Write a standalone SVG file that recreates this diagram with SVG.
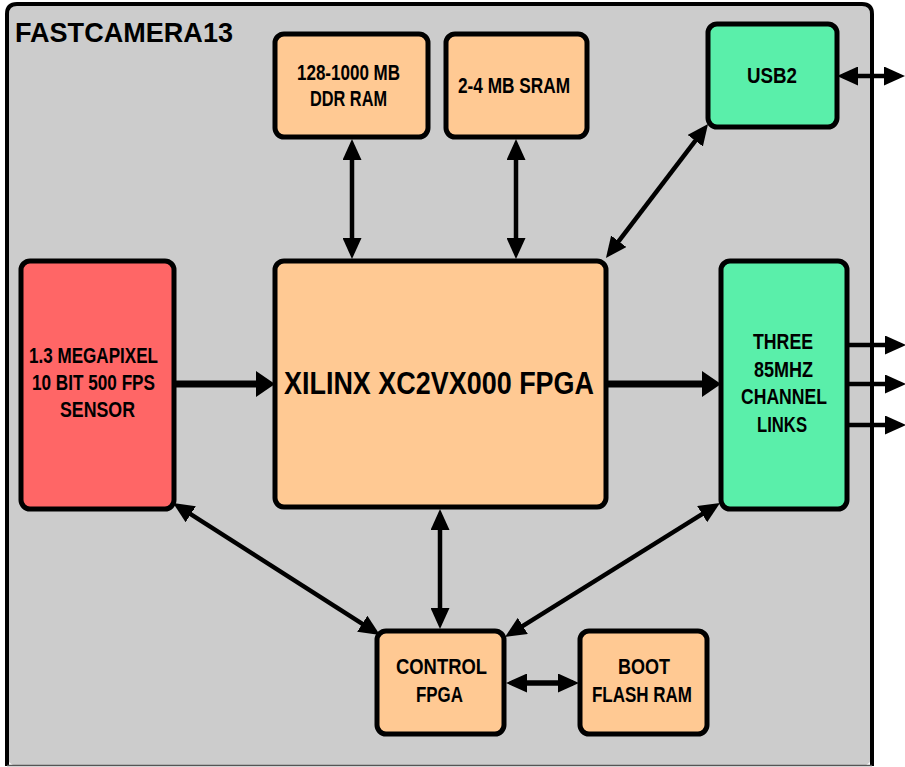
<svg xmlns="http://www.w3.org/2000/svg" width="905" height="767" viewBox="0 0 905 767">
<style>
.box{stroke:#000;stroke-width:5}
.or{fill:#ffc993}
.rd{fill:#ff6666}
.gr{fill:#5aefaa}
text{font-family:"Liberation Sans",Arial,sans-serif;font-weight:bold;fill:#000;text-anchor:middle}
.t{font-size:21.5px}
.big{font-size:32px}
.title{font-size:28.5px;text-anchor:start}
.ln{stroke:#000;stroke-width:4.5;fill:none}
.lnb{stroke:#000;stroke-width:7;fill:none}
</style>
<defs>
<marker id="ah" markerUnits="userSpaceOnUse" markerWidth="21" markerHeight="19" refX="15" refY="9.5" orient="auto-start-reverse" viewBox="0 0 21 19">
<path d="M0,0 L21,9.5 L0,19 z" fill="#000"/>
</marker>
<marker id="ahb" markerUnits="userSpaceOnUse" markerWidth="19" markerHeight="26" refX="13" refY="13" orient="auto-start-reverse" viewBox="0 0 19 26">
<path d="M0,0 L19,13 L0,26 z" fill="#000"/>
</marker>
</defs>

<g id="frame">
<rect x="7" y="4" width="865" height="762" rx="10" fill="#cccccc"/>
<path d="M7,766 V14 Q7,4 17,4 H862 Q872,4 872,14 V766" fill="none" stroke="#000" stroke-width="4"/>
<line x1="7" y1="765.5" x2="872" y2="765.5" stroke="#555" stroke-width="1.5"/>
<text class="title" x="15" y="42" textLength="218" lengthAdjust="spacingAndGlyphs">FASTCAMERA13</text>
</g>

<g id="connectors">
<line class="ln" x1="352" y1="145" x2="352" y2="253" marker-start="url(#ah)" marker-end="url(#ah)"/>
<line class="ln" x1="516" y1="145" x2="516" y2="253" marker-start="url(#ah)" marker-end="url(#ah)"/>
<line class="ln" x1="704.4" y1="128.8" x2="609.6" y2="253.2" marker-start="url(#ah)" marker-end="url(#ah)"/>
<line class="ln" x1="843" y1="76" x2="899" y2="76" marker-start="url(#ah)" marker-end="url(#ah)"/>
<line class="lnb" x1="176" y1="384" x2="269" y2="384" marker-end="url(#ahb)"/>
<line class="lnb" x1="607" y1="384" x2="715" y2="384" marker-end="url(#ahb)"/>
<line class="ln" x1="849" y1="345" x2="900" y2="345" marker-end="url(#ah)"/>
<line class="ln" x1="849" y1="384" x2="900" y2="384" marker-end="url(#ah)"/>
<line class="ln" x1="849" y1="425" x2="900" y2="425" marker-end="url(#ah)"/>
<line class="ln" x1="178.1" y1="506.2" x2="374.9" y2="631.8" marker-start="url(#ah)" marker-end="url(#ah)"/>
<line class="ln" x1="440" y1="515" x2="440" y2="623" marker-start="url(#ah)" marker-end="url(#ah)"/>
<line class="ln" x1="714.9" y1="506.2" x2="510.1" y2="633.8" marker-start="url(#ah)" marker-end="url(#ah)"/>
<line class="ln" x1="512" y1="683" x2="573" y2="683" marker-start="url(#ah)" marker-end="url(#ah)" style="stroke-width:5.5"/>
</g>

<g id="ddr">
<rect class="box or" x="275" y="34" width="153" height="103" rx="9"/>
<text class="t" x="348.5" y="80" textLength="103" lengthAdjust="spacingAndGlyphs">128-1000 MB</text>
<text class="t" x="348.5" y="106" textLength="77" lengthAdjust="spacingAndGlyphs">DDR RAM</text>
</g>

<g id="sram">
<rect class="box or" x="446" y="34" width="141" height="103" rx="9"/>
<text class="t" x="514" y="93" textLength="112" lengthAdjust="spacingAndGlyphs">2-4 MB SRAM</text>
</g>

<g id="usb2">
<rect class="box gr" x="708" y="24" width="129" height="103" rx="9"/>
<text class="t" x="772" y="83" textLength="50" lengthAdjust="spacingAndGlyphs">USB2</text>
</g>

<g id="sensor">
<rect class="box rd" x="21" y="261" width="153" height="248" rx="9"/>
<text class="t" x="93.5" y="363" textLength="129" lengthAdjust="spacingAndGlyphs">1.3 MEGAPIXEL</text>
<text class="t" x="93.5" y="390" textLength="123" lengthAdjust="spacingAndGlyphs">10 BIT 500 FPS</text>
<text class="t" x="97.5" y="417" textLength="75" lengthAdjust="spacingAndGlyphs">SENSOR</text>
</g>

<g id="fpga">
<rect class="box or" x="275" y="261" width="331" height="246" rx="9"/>
<text class="big" x="439" y="394" textLength="310" lengthAdjust="spacingAndGlyphs">XILINX XC2VX000 FPGA</text>
</g>

<g id="channel">
<rect class="box gr" x="721" y="261" width="126" height="248" rx="9"/>
<text class="t" x="783" y="349" textLength="60" lengthAdjust="spacingAndGlyphs">THREE</text>
<text class="t" x="783.5" y="377" textLength="59" lengthAdjust="spacingAndGlyphs">85MHZ</text>
<text class="t" x="784" y="404" textLength="86" lengthAdjust="spacingAndGlyphs">CHANNEL</text>
<text class="t" x="782" y="432" textLength="50" lengthAdjust="spacingAndGlyphs">LINKS</text>
</g>

<g id="control">
<rect class="box or" x="377" y="631" width="127" height="103" rx="9"/>
<text class="t" x="441.5" y="674" textLength="91" lengthAdjust="spacingAndGlyphs">CONTROL</text>
<text class="t" x="439.5" y="702" textLength="47" lengthAdjust="spacingAndGlyphs">FPGA</text>
</g>

<g id="boot">
<rect class="box or" x="580" y="631" width="127" height="103" rx="9"/>
<text class="t" x="644" y="674" textLength="52" lengthAdjust="spacingAndGlyphs">BOOT</text>
<text class="t" x="642" y="702" textLength="100" lengthAdjust="spacingAndGlyphs">FLASH RAM</text>
</g>
</svg>
